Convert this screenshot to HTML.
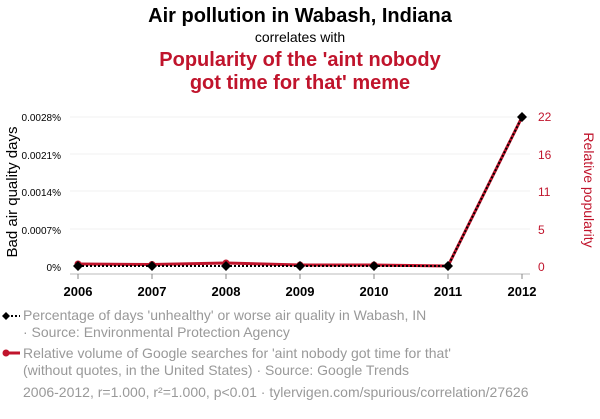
<!DOCTYPE html>
<html><head><meta charset="utf-8"><style>
body{margin:0;width:600px;height:414px;background:#fff;font-family:"Liberation Sans",sans-serif;overflow:hidden}
</style></head><body>
<svg width="600" height="414" xmlns="http://www.w3.org/2000/svg" font-family="Liberation Sans, sans-serif">
<text x="300" y="22" text-anchor="middle" font-size="20" font-weight="bold" fill="#000">Air pollution in Wabash, Indiana</text>
<text x="300" y="42" text-anchor="middle" font-size="14" fill="#000">correlates with</text>
<text x="300" y="66" text-anchor="middle" font-size="20" font-weight="bold" fill="#c0142c">Popularity of the 'aint nobody</text>
<text x="300" y="89" text-anchor="middle" font-size="20" font-weight="bold" fill="#c0142c">got time for that' meme</text>
<g stroke="#f0f0f0" stroke-width="1">
<line x1="70" y1="117" x2="530" y2="117"/><line x1="70" y1="154" x2="530" y2="154"/>
<line x1="70" y1="191" x2="530" y2="191"/><line x1="70" y1="229" x2="530" y2="229"/>
</g>
<line x1="70" y1="274" x2="530" y2="274" stroke="#bbb"/>
<g stroke="#888"><line x1="78" y1="274" x2="78" y2="279"/><line x1="152" y1="274" x2="152" y2="279"/><line x1="226" y1="274" x2="226" y2="279"/><line x1="300" y1="274" x2="300" y2="279"/><line x1="374" y1="274" x2="374" y2="279"/><line x1="448" y1="274" x2="448" y2="279"/><line x1="522" y1="274" x2="522" y2="279"/></g>
<g font-size="13" font-weight="bold" text-anchor="middle" fill="#000">
<text x="78" y="296">2006</text><text x="152" y="296">2007</text><text x="226" y="296">2008</text><text x="300" y="296">2009</text><text x="374" y="296">2010</text><text x="448" y="296">2011</text><text x="522" y="296">2012</text></g>
<g font-size="10" text-anchor="end" fill="#000">
<text x="61" y="121">0.0028%</text><text x="61" y="159">0.0021%</text><text x="61" y="196">0.0014%</text><text x="61" y="234">0.0007%</text><text x="61" y="271">0%</text></g>
<text transform="translate(17,192) rotate(-90)" text-anchor="middle" font-size="15" fill="#000">Bad air quality days</text>
<g font-size="12" fill="#c0142c">
<text x="538" y="121">22</text><text x="538" y="159">16</text><text x="538" y="196">11</text><text x="538" y="234">5</text><text x="538" y="271">0</text></g>
<text transform="translate(584,190) rotate(90)" text-anchor="middle" font-size="14" fill="#c0142c">Relative popularity</text>
<polyline points="78,264 152,264.5 226,263 300,265 374,265 448,266 522,117" fill="none" stroke="#c0142c" stroke-width="3"/>
<g fill="#c0142c"><circle cx="78" cy="264" r="3.5"/><circle cx="152" cy="264.5" r="3.5"/><circle cx="226" cy="263" r="3.5"/><circle cx="300" cy="265" r="3.5"/><circle cx="374" cy="265" r="3.5"/><circle cx="448" cy="266" r="3.5"/><circle cx="522" cy="117" r="3.5"/></g>
<polyline points="78,266 152,266 226,266 300,266 374,266 448,266 522,117" fill="none" stroke="#000" stroke-width="2" stroke-dasharray="2,2"/>
<g fill="#000"><path d="M78 261l5 5-5 5-5-5z"/><path d="M152 261l5 5-5 5-5-5z"/><path d="M226 261l5 5-5 5-5-5z"/><path d="M300 261l5 5-5 5-5-5z"/><path d="M374 261l5 5-5 5-5-5z"/><path d="M448 261l5 5-5 5-5-5z"/><path d="M522 112l5 5-5 5-5-5z"/></g>
<line x1="3" y1="316" x2="20" y2="316" stroke="#000" stroke-width="2" stroke-dasharray="2,2"/>
<path d="M6 312l4 4-4 4-4-4z" fill="#000"/>
<line x1="3" y1="353" x2="20" y2="353" stroke="#c0142c" stroke-width="3"/>
<circle cx="6" cy="353" r="3.5" fill="#c0142c"/>
<g font-size="14" fill="#999">
<text x="23" y="320">Percentage of days 'unhealthy' or worse air quality in Wabash, IN</text>
<text x="23" y="337"> · Source: Environmental Protection Agency</text>
<text x="23" y="358">Relative volume of Google searches for 'aint nobody got time for that'</text>
<text x="23" y="375">(without quotes, in the United States) · Source: Google Trends</text>
<text x="23" y="397">2006-2012, r=1.000, r²=1.000, p&lt;0.01 · tylervigen.com/spurious/correlation/27626</text>
</g>
</svg>
</body></html>
